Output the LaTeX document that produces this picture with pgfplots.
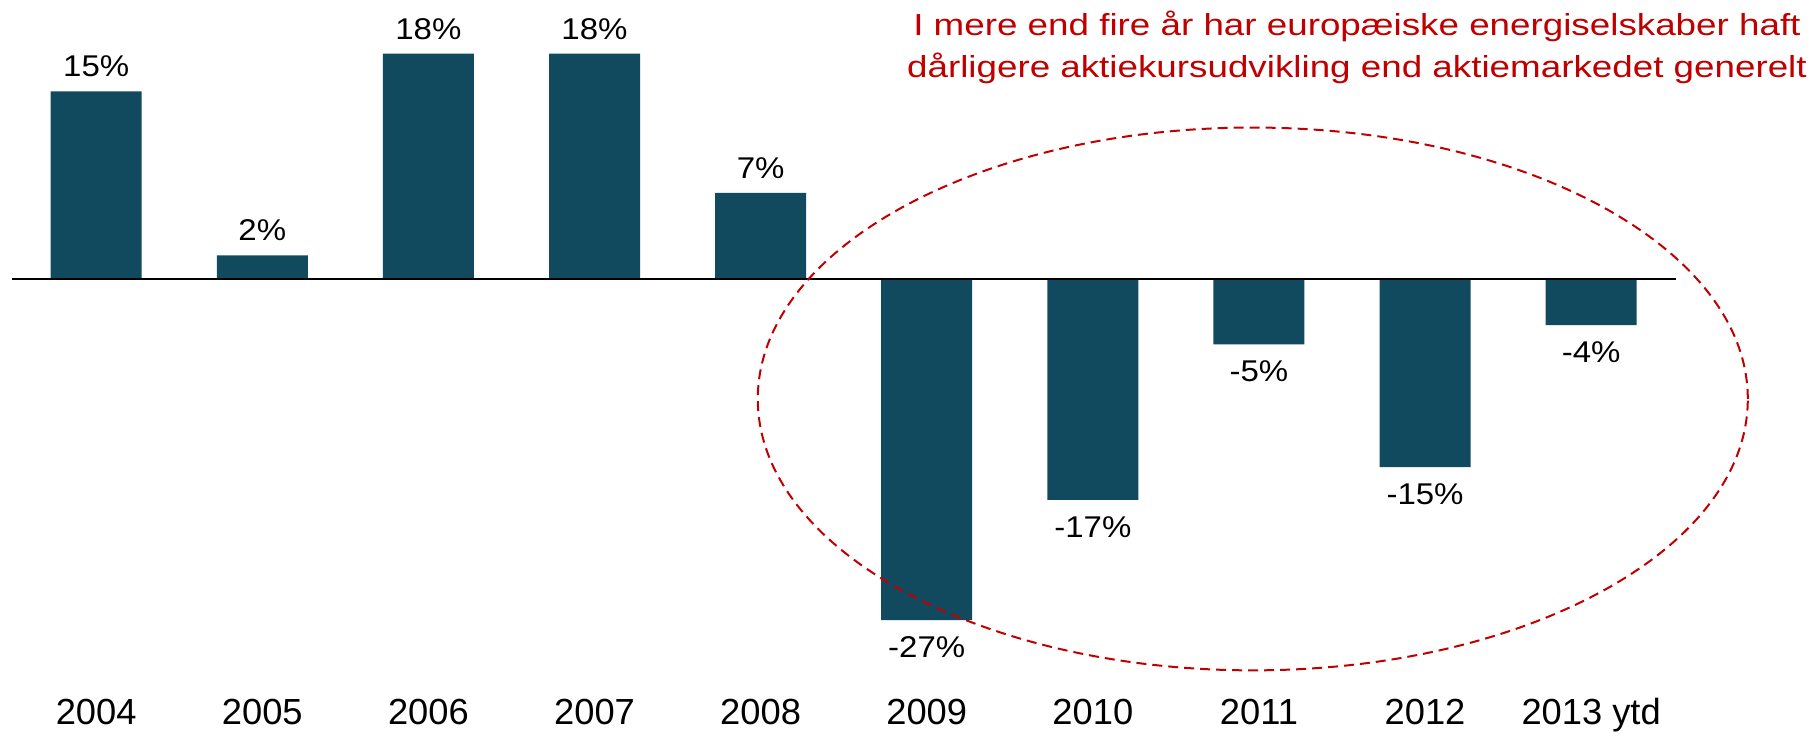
\documentclass[border=0pt]{standalone}
\usepackage{pgfplots}
\pgfplotsset{compat=1.18}
\usepackage{fontspec}
\setmainfont{Liberation Sans}
\newfontfamily\labelfont[FakeStretch=1.1]{Liberation Sans}
\newfontfamily\redfont[FakeStretch=1.21]{Liberation Sans}
\definecolor{barblue}{HTML}{114A5E}
\definecolor{annred}{HTML}{C00000}
\begin{document}
\begin{tikzpicture}
\begin{axis}[
  at={(0,0)}, anchor=south west,
  scale only axis, width=831.7pt, height=340pt,
  xmin=-0.505, xmax=9.509, ymin=-31.98, ymax=22.29,
  clip=false,
  axis line style={draw=none},
  ytick=\empty,
  xtick={0,...,9},
  xticklabels={2004,2005,2006,2007,2008,2009,2010,2011,2012,2013 ytd},
  major tick length=0pt,
  tick style={draw=none},
  xticklabel style={anchor=base, yshift=-22pt, font=\fontsize{18.15}{20}\selectfont},
  ybar, bar width=45.5pt,
  point meta=explicit symbolic,
  nodes near coords,
]
\addplot[fill=barblue, draw=none, bar shift=0pt,
  nodes near coords style={anchor=base, yshift=7.35pt, text=black,
    font=\labelfont\fontsize{15}{16}\selectfont}]
  coordinates {(0,15.0) [15\%] (1,1.9) [2\%] (2,18.0) [18\%] (3,18.0) [18\%] (4,6.9) [7\%]};
\addplot[fill=barblue, draw=none, bar shift=0pt,
  nodes near coords style={anchor=base, yshift=-18.6pt, text=black,
    font=\labelfont\fontsize{15}{16}\selectfont}]
  coordinates {(5,-27.2) [-27\%] (6,-17.6) [-17\%] (7,-5.2) [-5\%] (8,-15.0) [-15\%] (9,-3.65) [-4\%]};
\draw[black, line width=1pt] (axis cs:-0.505,0) -- (axis cs:9.509,0);
\draw[annred, line width=1pt, dash pattern=on 5pt off 3pt] (axis cs:6.963,-9.55) ellipse [x radius=247.5pt, y radius=135.7pt];
\node[anchor=base, text=annred, inner sep=0pt, font=\redfont\fontsize{15.2}{17}\selectfont] at (axis cs:7.59,19.42) {I mere end fire år har europæiske energiselskaber haft};
\node[anchor=base, text=annred, inner sep=0pt, font=\redfont\fontsize{15.2}{17}\selectfont] at (axis cs:7.59,16.1) {dårligere aktiekursudvikling end aktiemarkedet generelt};
\end{axis}
\path[use as bounding box] (-6.15pt,-25pt) rectangle (903.35pt,340pt);
\end{tikzpicture}
\end{document}
